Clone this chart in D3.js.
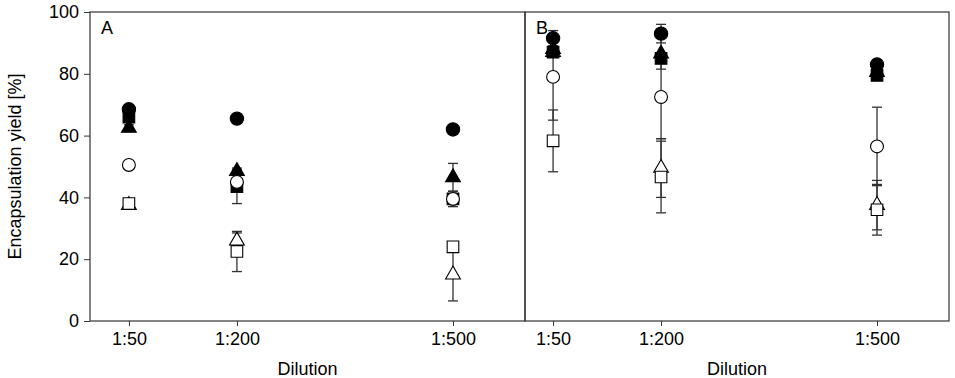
<!DOCTYPE html>
<html>
<head>
<meta charset="utf-8">
<script src="https://cdn.jsdelivr.net/npm/d3@7"></script>
<style>
    body { margin: 0; background: #fff; }
    text { font-family: "Liberation Sans", Arial, sans-serif; fill: #000; }
</style>
</head>
<body>
<div id="chart"></div>
<script>
// dilution (1:x)
const dilutions = [50, 200, 500];
const tickLabels = ['1:50', '1:200', '1:500'];
const yTicks = [0, 20, 40, 60, 80, 100];

// series keys (draw order): open triangle, open square, filled square, filled triangle, filled circle, open circle
const seriesKeys = ['ot', 'os', 'fs', 'ft', 'fc', 'oc'];

// panel A values and errors
const aFilledCircle = [68.5, 65.5, 62];
const aFilledCircleErr = [1, 1, 1];
const aFilledSquare = [66, 43.5, 39.5];
const aFilledSquareErr = [1.5, 5.5, 1];
const aFilledTriangle = [62.5, 48.5, 46.5];
const aFilledTriangleErr = [1, 1, 4.5];
const aOpenCircle = [50.5, 45, 39.5];
const aOpenCircleErr = [1, 1, 2.5];
const aOpenSquare = [38, 22.5, 24];
const aOpenSquareErr = [1, 6.5, 1];
const aOpenTriangle = [37.5, 26, 15];
const aOpenTriangleErr = [1, 2.5, 8.5];

// panel B values and errors
const bFilledCircle = [91.5, 93, 83];
const bFilledCircleErr = [2.5, 3, 1];
const bFilledSquare = [87, 85, 79.5];
const bFilledSquareErr = [1, 1, 1];
const bFilledTriangle = [88, 86.5, 80.5];
const bFilledTriangleErr = [1, 5, 1];
const bOpenCircle = [79, 72.5, 56.5];
const bOpenCircleErr = [14, 13.5, 12.7];
const bOpenSquare = [58.3, 46.6, 36];
const bOpenSquareErr = [10, 11.6, 8.2];
const bOpenTriangle = [87, 49.5, 37.5];
const bOpenTriangleErr = [1, 9.5, 8];

const panels = [
    {
        label: 'A', x0: 90, x1: 525, domain: [-4, 600],
        series: {
            fc: [aFilledCircle, aFilledCircleErr], fs: [aFilledSquare, aFilledSquareErr],
            ft: [aFilledTriangle, aFilledTriangleErr], oc: [aOpenCircle, aOpenCircleErr],
            os: [aOpenSquare, aOpenSquareErr], ot: [aOpenTriangle, aOpenTriangleErr]
        }
    },
    {
        label: 'B', x0: 525, x1: 949, domain: [11, 600],
        series: {
            fc: [bFilledCircle, bFilledCircleErr], fs: [bFilledSquare, bFilledSquareErr],
            ft: [bFilledTriangle, bFilledTriangleErr], oc: [bOpenCircle, bOpenCircleErr],
            os: [bOpenSquare, bOpenSquareErr], ot: [bOpenTriangle, bOpenTriangleErr]
        }
    }
];

const symbolOf = {
    fc: d3.symbolCircle, oc: d3.symbolCircle,
    fs: d3.symbolSquare, os: d3.symbolSquare,
    ft: d3.symbolTriangle, ot: d3.symbolTriangle
};
const sizeOf = {fc: 140, oc: 130, fs: 135, os: 135, ft: 95, ot: 95};

const width = 955, height = 378;
const plotTop = 12, plotBottom = 321;
const lineColor = '#333';

const svg = d3.select('#chart')
    .append('svg')
    .attr('width', width)
    .attr('height', height);

const yScale = d3.scaleLinear().domain([0, 100]).range([plotBottom, plotTop]);

// y axis
svg.append('g')
    .attr('transform', 'translate(90,0)')
    .call(d3.axisLeft(yScale).tickValues(yTicks).tickSize(6).tickPadding(5))
    .call(g => g.select('.domain').remove())
    .call(g => g.selectAll('line').attr('stroke', lineColor))
    .call(g => g.selectAll('text').style('font-size', '18px').attr('fill', '#000'));

svg.append('text')
    .attr('transform', `translate(21,${(plotTop + plotBottom) / 2}) rotate(-90)`)
    .attr('text-anchor', 'middle')
    .style('font-size', '18px')
    .text('Encapsulation yield [%]');

panels.forEach(p => {
    const xScale = d3.scaleLinear().domain(p.domain).range([p.x0, p.x1]);
    const g = svg.append('g');

    // frame
    g.append('rect')
        .attr('x', p.x0)
        .attr('y', plotTop)
        .attr('width', p.x1 - p.x0)
        .attr('height', plotBottom - plotTop)
        .attr('fill', 'none')
        .attr('stroke', lineColor)
        .attr('stroke-width', 1.2);

    // x axis
    g.append('g')
        .attr('transform', `translate(0,${plotBottom})`)
        .call(d3.axisBottom(xScale).tickValues(dilutions)
            .tickFormat((d, i) => tickLabels[i]).tickSize(5).tickPadding(6))
        .call(a => a.select('.domain').remove())
        .call(a => a.selectAll('line').attr('stroke', lineColor))
        .call(a => a.selectAll('text').style('font-size', '18px').attr('fill', '#000'));

    g.append('text')
        .attr('x', (p.x0 + p.x1) / 2)
        .attr('y', 375)
        .attr('text-anchor', 'middle')
        .style('font-size', '18px')
        .text('Dilution');

    g.append('text')
        .attr('x', p.x0 + 11)
        .attr('y', 34)
        .style('font-size', '18px')
        .text(p.label);

    // error bars
    seriesKeys.forEach(k => {
        const [vals, errs] = p.series[k];
        const eb = g.append('g').attr('stroke', lineColor).attr('stroke-width', 1.3);
        dilutions.forEach((d, i) => {
            const x = xScale(d);
            const y1 = yScale(vals[i] + errs[i]);
            const y2 = yScale(vals[i] - errs[i]);
            eb.append('line').attr('x1', x).attr('x2', x).attr('y1', y1).attr('y2', y2);
            eb.append('line').attr('x1', x - 5).attr('x2', x + 5).attr('y1', y1).attr('y2', y1);
            eb.append('line').attr('x1', x - 5).attr('x2', x + 5).attr('y1', y2).attr('y2', y2);
        });
    });

    // markers
    seriesKeys.forEach(k => {
        const [vals] = p.series[k];
        const filled = k[0] === 'f';
        g.append('g')
            .selectAll('path')
            .data(dilutions)
            .join('path')
            .attr('transform', (d, i) => `translate(${xScale(d)},${yScale(vals[i])})`)
            .attr('d', d3.symbol().type(symbolOf[k]).size(sizeOf[k]))
            .attr('fill', filled ? '#000' : '#fff')
            .attr('stroke', '#000')
            .attr('stroke-width', 1.1);
    });
});
</script>
</body>
</html>
